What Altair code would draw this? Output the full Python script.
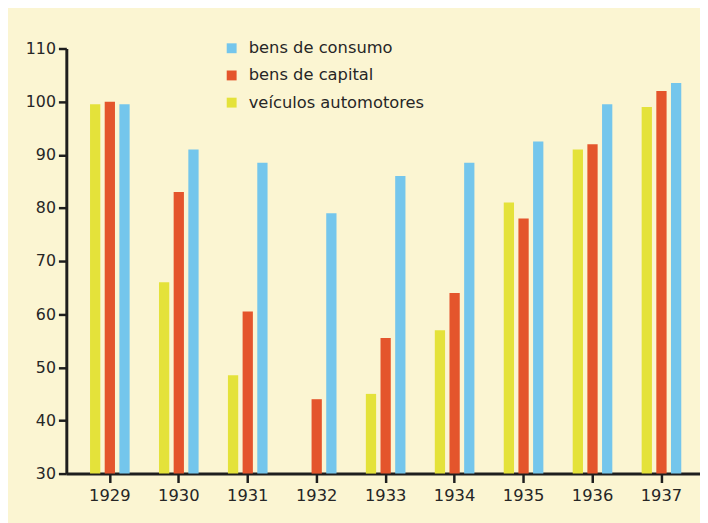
import altair as alt
import pandas as pd

years = ["1929", "1930", "1931", "1932", "1933", "1934", "1935", "1936", "1937"]
veiculos = [99.5, 66, 48.5, None, 45, 57, 81, 91, 99]
capital = [100, 83, 60.5, 44, 55.5, 64, 78, 92, 102]
consumo = [99.5, 91, 88.5, 79, 86, 88.5, 92.5, 99.5, 103.5]

series_names = ["bens de consumo", "bens de capital", "veículos automotores"]
series_colors = ["#74c6ec", "#e4552c", "#e4e23a"]
offset_order = ["veículos automotores", "bens de capital", "bens de consumo"]

rows = []
for name, vals in zip(["veículos automotores", "bens de capital", "bens de consumo"],
                      [veiculos, capital, consumo]):
    for y, v in zip(years, vals):
        if v is not None:
            rows.append({"ano": y, "serie": name, "valor": v})
df = pd.DataFrame(rows)

font = "DejaVu Sans"
txt = "#262626"
axc = "#1e1e1e"

chart = alt.Chart(df).mark_bar().encode(
    x=alt.X("ano:N", sort=years, title=None,
            scale=alt.Scale(paddingInner=0, paddingOuter=0.095, align=0.69),
            axis=alt.Axis(labelAngle=0, labelFontSize=16.5, labelColor=txt, labelFont=font,
                          tickSize=9, tickWidth=2.5, tickColor=axc, domainWidth=3,
                          domainColor=axc, labelPadding=5, grid=False, bandPosition=0.5)),
    xOffset=alt.XOffset("serie:N", sort=offset_order,
                        scale=alt.Scale(paddingInner=0.3, paddingOuter=1)),
    y=alt.Y("valor:Q", title=None,
            scale=alt.Scale(domain=[30, 110], zero=False, nice=False),
            axis=alt.Axis(values=list(range(30, 111, 10)), labelFontSize=16, labelColor=txt,
                          labelFont=font, tickSize=8, tickWidth=2.5, tickColor=axc,
                          domainWidth=3, domainColor=axc, labelPadding=3, grid=False)),
    y2=alt.datum(30),
    color=alt.Color("serie:N",
                    scale=alt.Scale(domain=series_names, range=series_colors),
                    legend=alt.Legend(title=None, orient="none", legendX=159, legendY=-8.5,
                                      labelFontSize=16.5, labelFont=font, labelColor=txt,
                                      labelLimit=400,
                                      symbolType="square", symbolSize=100, symbolStrokeWidth=0,
                                      rowPadding=10.5, labelOffset=9, padding=0)),
).properties(
    width=641, height=430,
    background="#fbf5d2",
    padding={"left": 59, "top": 38, "right": 0, "bottom": 47},
    autosize=alt.AutoSizeParams(type="none"),
).configure_view(stroke=None)

chart.save("out.html", embed_options={"renderer": "svg", "actions": False})
